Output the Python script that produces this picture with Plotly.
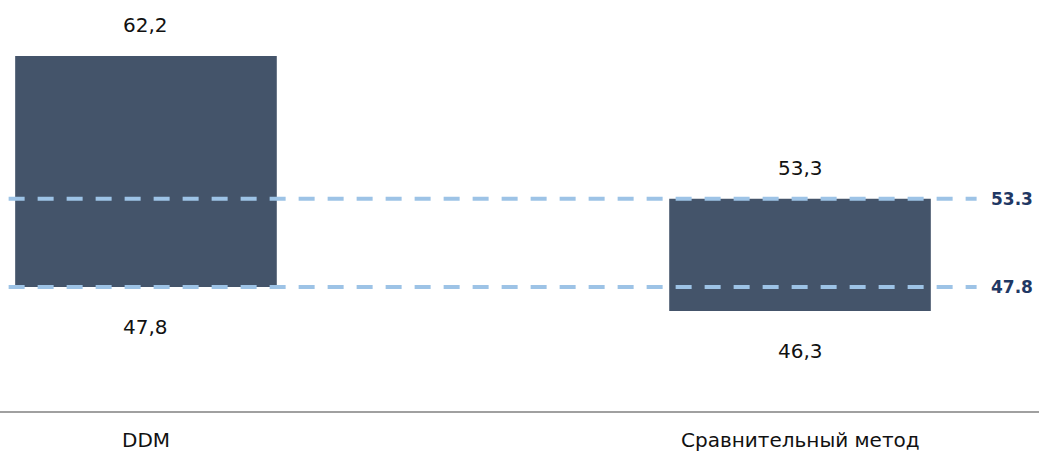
import plotly.graph_objects as go

# Valuation ranges by method (low / high)
methods = ["DDM", "Сравнительный метод"]
low_vals = [47.8, 46.3]
high_vals = [62.2, 53.3]

# Reference levels (dashed lines with labels on the right)
ref_levels = [53.3, 47.8]
ref_labels = ["53.3", "47.8"]

BAR_COLOR = "#44546A"
DASH_COLOR = "#9DC3E6"
LABEL_COLOR = "#1F3864"
FONT = "DejaVu Sans"

x_pos = list(range(len(methods)))

fig = go.Figure()

# Floating bars from low to high
fig.add_trace(go.Bar(
    x=x_pos,
    y=[h - l for l, h in zip(low_vals, high_vals)],
    base=low_vals,
    width=0.4,
    marker=dict(color=BAR_COLOR, line=dict(width=0)),
    hoverinfo="skip",
    showlegend=False,
))

# Dashed reference lines across the chart
for lvl in ref_levels:
    fig.add_trace(go.Scatter(
        x=[-0.21, 1.27],
        y=[lvl, lvl],
        mode="lines",
        line=dict(color=DASH_COLOR, width=4, dash="16px,13px"),
        hoverinfo="skip",
        showlegend=False,
    ))

annotations = []
# Value labels above and below each bar
for xi, lo, hi in zip(x_pos, low_vals, high_vals):
    annotations.append(dict(
        x=xi, y=hi, xref="x", yref="y",
        text=f"{hi:.1f}".replace(".", ","),
        showarrow=False, yanchor="middle", yshift=31,
        font=dict(family=FONT, size=20, color="#111111"),
    ))
    annotations.append(dict(
        x=xi, y=lo, xref="x", yref="y",
        text=f"{lo:.1f}".replace(".", ","),
        showarrow=False, yanchor="middle", yshift=-40,
        font=dict(family=FONT, size=20, color="#111111"),
    ))

# Labels for reference levels
for lvl, lab in zip(ref_levels, ref_labels):
    annotations.append(dict(
        x=1.0, y=lvl, xref="paper", yref="y",
        text=f"<b>{lab}</b>",
        showarrow=False, xanchor="right", yanchor="middle", xshift=-4,
        font=dict(family=FONT, size=17, color=LABEL_COLOR),
    ))

# Category labels under the axis line
for xi, name in zip(x_pos, methods):
    annotations.append(dict(
        x=xi, y=0, xref="x", yref="paper",
        text=name,
        showarrow=False, yanchor="middle", yshift=-28,
        font=dict(family=FONT, size=20, color="#111111"),
    ))

fig.update_layout(
    width=1039, height=453,
    margin=dict(l=0, r=0, t=0, b=41),
    paper_bgcolor="white",
    plot_bgcolor="white",
    annotations=annotations,
    xaxis=dict(
        range=[-0.2232, 1.3654],
        showgrid=False, zeroline=False, showticklabels=False,
        ticks="", showline=False,
    ),
    yaxis=dict(
        range=[40.0, 65.7],
        showgrid=False, zeroline=False, showticklabels=False,
        ticks="", showline=False,
    ),
    shapes=[dict(
        type="line", xref="paper", yref="paper",
        x0=0, x1=1, y0=0, y1=0,
        line=dict(color="#A0A0A0", width=2),
    )],
)

fig.write_html("out.html")
